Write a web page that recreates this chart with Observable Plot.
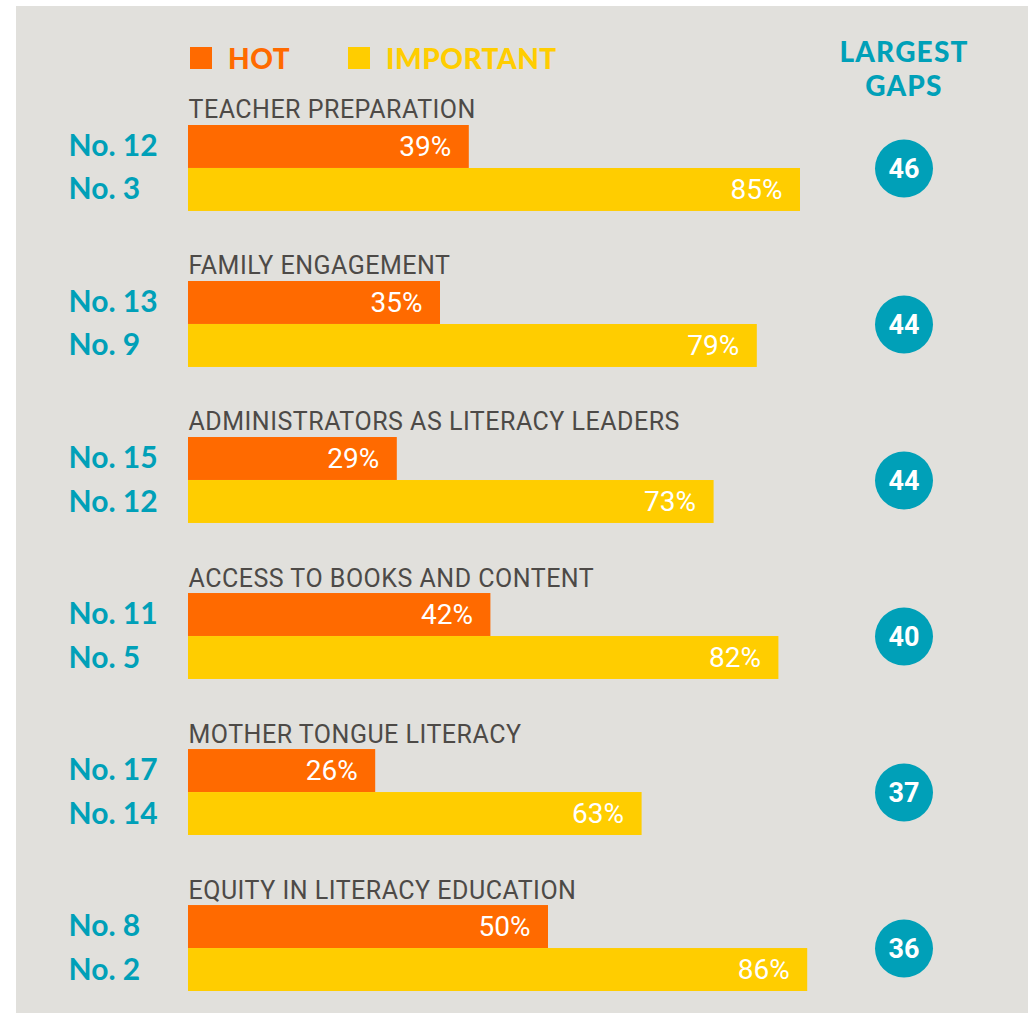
<!DOCTYPE html>
<html>
<head>
<meta charset="utf-8">
<script src="https://cdn.jsdelivr.net/npm/d3@7"></script>
<script src="https://cdn.jsdelivr.net/npm/@observablehq/plot@0.6"></script>
<style>
  html, body { margin: 0; padding: 0; background: #ffffff; }
  #wrap { position: relative; width: 1028px; height: 1013px; overflow: hidden; }
  #panel { position: absolute; left: 16px; top: 6px; width: 1012px; height: 1007px; background: #e1e0dc; }
  #chart { position: absolute; left: 0; top: 0; }
  .lg { position: absolute; font-family: Lato, sans-serif; font-weight: 900; white-space: nowrap; }
  .sw { position: absolute; width: 22px; height: 22px; }
</style>
</head>
<body>
<div id="wrap">
  <div id="panel"></div>
  <div id="chart"></div>
  <div id="legend"></div>
</div>
<script>
const groups = [
  "TEACHER PREPARATION",
  "FAMILY ENGAGEMENT",
  "ADMINISTRATORS AS LITERACY LEADERS",
  "ACCESS TO BOOKS AND CONTENT",
  "MOTHER TONGUE LITERACY",
  "EQUITY IN LITERACY EDUCATION"
];
const hotPct = [39, 35, 29, 42, 26, 50];
const importantPct = [85, 79, 73, 82, 63, 86];
const hotRank = [12, 13, 15, 11, 17, 8];
const importantRank = [3, 9, 12, 5, 14, 2];
const gaps = [46, 44, 44, 40, 37, 36];
const seriesNames = ["HOT", "IMPORTANT"];
const headerLines = ["LARGEST", "GAPS"];

const ORANGE = "#ff6a00";
const YELLOW = "#ffcd00";
const TEAL = "#00a0b8";
const GRAY = "#4d4a47";

const rows = groups.map((g, i) => ({
  group: g, hot: hotPct[i], important: importantPct[i],
  hotRank: hotRank[i], importantRank: importantRank[i], gap: gaps[i]
}));

const chart = Plot.plot({
  width: 1028,
  height: 1013,
  margin: 0,
  style: { background: "transparent", overflow: "visible" },
  x: { domain: [0, 100], range: [188, 908], axis: null },
  y: { domain: groups, range: [125, 991], paddingInner: 0.449, paddingOuter: 0, axis: null, round: false },
  marks: [
    Plot.barX(rows, { x: "hot", y: "group", fill: ORANGE, insetBottom: 43 }),
    Plot.barX(rows, { x: "important", y: "group", fill: YELLOW, insetTop: 43 }),
    Plot.text(rows, { x: "hot", y: "group", text: d => d.hot + "%", textAnchor: "end", dx: -18, dy: -21.5,
      fill: "white", fontSize: 28, fontFamily: "Roboto, sans-serif" }),
    Plot.text(rows, { x: "important", y: "group", text: d => d.important + "%", textAnchor: "end", dx: -18, dy: 21.5,
      fill: "white", fontSize: 28, fontFamily: "Roboto, sans-serif" }),
    Plot.text(rows, { x: 0, y: "group", text: "group", textAnchor: "start", dy: -58,
      fill: GRAY, fontSize: 25, fontFamily: "Roboto, sans-serif" }),
    Plot.text(rows, { frameAnchor: "left", y: "group", text: d => "No. " + d.hotRank, textAnchor: "start", dx: 68, dy: -21.8,
      fill: TEAL, fontSize: 30, fontWeight: 700, fontFamily: "Lato, sans-serif" }),
    Plot.text(rows, { frameAnchor: "left", y: "group", text: d => "No. " + d.importantRank, textAnchor: "start", dx: 68, dy: 21.4,
      fill: TEAL, fontSize: 30, fontWeight: 700, fontFamily: "Lato, sans-serif" }),
    Plot.dot(rows, { frameAnchor: "right", y: "group", dx: -124.5, r: 29, fill: TEAL, stroke: null }),
    Plot.text(rows, { frameAnchor: "right", y: "group", text: d => String(d.gap), dx: -124.5, dy: 1,
      textAnchor: "middle", fill: "white", fontSize: 27, fontWeight: 700, fontFamily: "Roboto, sans-serif" }),
    // column header
    Plot.text([headerLines.join("\n")], { frameAnchor: "top-right", text: d => d, dx: -124.5, dy: 37,
      lineAnchor: "top", lineHeight: 1.22, textAnchor: "middle", fill: TEAL, fontSize: 28, fontWeight: 900,
      fontFamily: "Lato, sans-serif" })
  ]
});
document.getElementById("chart").appendChild(chart);
// slight tracking on the category titles and the header, as in the reference
d3.select(chart).selectAll("g[fill='" + GRAY + "'] text").style("letter-spacing", "0.5px");
d3.select(chart).selectAll("text").filter(function () { return this.textContent.indexOf("LARGEST") >= 0; })
  .style("letter-spacing", "1.2px");

// legend (HTML above the SVG)
const legend = document.getElementById("legend");
const legendItems = [
  { name: seriesNames[0], color: ORANGE, sx: 190, tx: 228 },
  { name: seriesNames[1], color: YELLOW, sx: 348, tx: 386 }
];
legendItems.forEach(it => {
  const sw = document.createElement("div");
  sw.className = "sw";
  sw.style.left = it.sx + "px"; sw.style.top = "47px"; sw.style.background = it.color;
  legend.appendChild(sw);
  const t = document.createElement("div");
  t.className = "lg";
  t.textContent = it.name;
  t.style.left = it.tx + "px"; t.style.top = "44px";
  t.style.fontSize = "28px"; t.style.lineHeight = "28px"; t.style.color = it.color;
  t.style.letterSpacing = "0.5px";
  legend.appendChild(t);
});
</script>
</body>
</html>
